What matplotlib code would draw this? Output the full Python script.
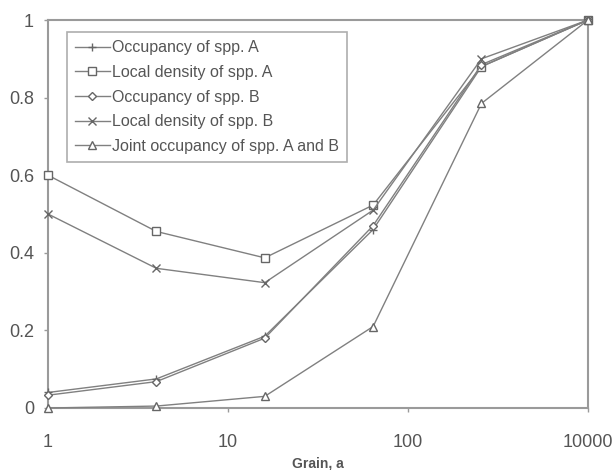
import matplotlib
matplotlib.use("Agg")
import matplotlib.pyplot as plt

plt.rcParams['font.family'] = ['Liberation Sans', 'DejaVu Sans']

grain = [1, 4, 16, 64, 256, 1000]
occ_a = [0.04, 0.075, 0.185, 0.46, 0.88, 1.0]
dens_a = [0.60, 0.455, 0.387, 0.523, 0.88, 1.0]
occ_b = [0.033, 0.068, 0.18, 0.47, 0.885, 1.0]
dens_b = [0.50, 0.36, 0.323, 0.51, 0.90, 1.0]
joint = [0.0, 0.005, 0.03, 0.21, 0.785, 1.0]

labels = ["Occupancy of spp. A", "Local density of spp. A", "Occupancy of spp. B",
          "Local density of spp. B", "Joint occupancy of spp. A and B"]
series = [occ_a, dens_a, occ_b, dens_b, joint]
markers = ["+", "s", "D", "x", "^"]
sizes = [6, 6, 4.5, 6, 5.5]

line_col = "#808080"
frame_col = "#9a9a9a"
text_col = "#555555"

fig = plt.figure(figsize=(6.14, 4.70), dpi=100)
ax = fig.add_axes([48 / 614, 1 - 408 / 470, 540 / 614, 388 / 470])

for ys, lab, m, s in zip(series, labels, markers, sizes):
    ax.plot(grain, ys, color=line_col, lw=1.0, marker=m, markersize=s,
            markerfacecolor="white", markeredgecolor="#666666", markeredgewidth=1.0,
            label=lab, clip_on=False, zorder=3)

ax.set_xscale("log")
ax.set_xlim(1, 1000)
ax.set_ylim(0, 1)
ax.set_xticks([1, 10, 100, 1000])
ax.set_xticklabels(["1", "10", "100", "10000"])
ax.minorticks_off()
ax.set_yticks([0, 0.2, 0.4, 0.6, 0.8, 1.0])
ax.set_yticklabels(["0", "0.2", "0.4", "0.6", "0.8", "1"])

for sp in ax.spines.values():
    sp.set_color(frame_col)
    sp.set_linewidth(1.5)
ax.tick_params(axis="both", colors=frame_col, labelcolor=text_col, labelsize=13,
               length=3, width=1)
ax.tick_params(axis="x", pad=16)
ax.tick_params(axis="y", pad=7)

ax.set_xlabel("Grain, a", fontsize=10, fontweight="bold", color=text_col, labelpad=4)

leg = ax.legend(loc="upper left", bbox_to_anchor=(0.035, 0.968), fontsize=11.5,
                frameon=True, fancybox=False, edgecolor=frame_col, handlelength=2.2,
                labelspacing=0.6, borderpad=0.5, handletextpad=0.15, borderaxespad=0)
leg.get_frame().set_linewidth(1.2)
for t in leg.get_texts():
    t.set_color(text_col)

fig.savefig("out.png", dpi=100)
